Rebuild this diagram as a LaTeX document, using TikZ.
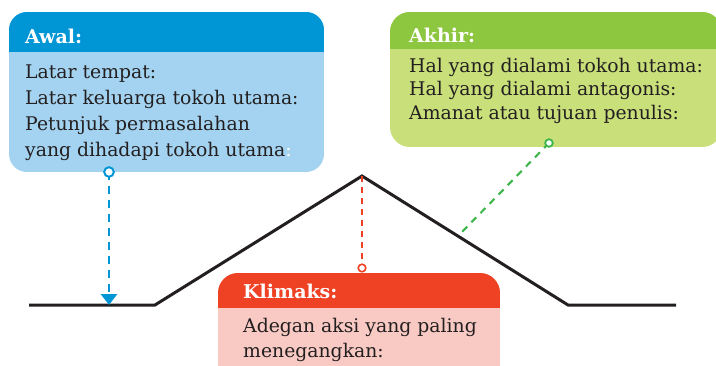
\documentclass[tikz,border=0pt]{standalone}
\usepackage{fontspec}
\setmainfont{DejaVu Serif}
\usetikzlibrary{arrows.meta}
\definecolor{awalhead}{HTML}{0096D6}
\definecolor{awalbody}{HTML}{A3D3F0}
\definecolor{akhirhead}{HTML}{8DC63F}
\definecolor{akhirbody}{HTML}{C8DF7A}
\definecolor{klimakshead}{HTML}{EF4123}
\definecolor{klimaksbody}{HTML}{F9CAC3}
\definecolor{tinta}{HTML}{231F20}
\definecolor{pinhijau}{HTML}{3DB54A}
\tikzset{
  headtext/.style={anchor=base west, inner sep=0pt, text=white, font=\fontsize{19}{22}\selectfont\bfseries},
  bodytext/.style={anchor=base west, inner sep=0pt, text=tinta, font=\fontsize{18.8}{22}\selectfont},
  pinhead/.style={fill=white, line width=1.6pt}
}

\begin{document}
\begin{tikzpicture}[x=1pt,y=-1pt]
  \useasboundingbox (0,0) rectangle (716,365);
  \clip (0,0) rectangle (716,365);

  % kotak awal
  \begin{scope}
    \clip[rounded corners=18pt] (9,12) rectangle (324,172);
    \fill[awalbody] (9,12) rectangle (324,172);
    \fill[awalhead] (9,12) rectangle (324,52);
  \end{scope}
  \node[headtext] (awal) at (25,43) {Awal:};
  \node[bodytext] (awal1) at (25,78) {Latar tempat:};
  \node[bodytext] (awal2) at (25,104) {Latar keluarga tokoh utama:};
  \node[bodytext] (awal3) at (25,130) {Petunjuk permasalahan};
  \node[bodytext] (awal4) at (25,156) {yang dihadapi tokoh utama\textcolor{white}{:}};

  % kotak akhir
  \begin{scope}
    \clip[rounded corners=20pt] (390,12) rectangle (722,147);
    \fill[akhirbody] (390,12) rectangle (722,147);
    \fill[akhirhead] (390,12) rectangle (722,49);
  \end{scope}
  \node[headtext] (akhir) at (409,42) {Akhir:};
  \node[bodytext] (akhir1) at (409,72) {Hal yang dialami tokoh utama:};
  \node[bodytext] (akhir2) at (409,95) {Hal yang dialami antagonis:};
  \node[bodytext] (akhir3) at (409,119) {Amanat atau tujuan penulis:};

  % kotak klimaks
  \begin{scope}
    \clip[rounded corners=20pt] (218,273) rectangle (500,385);
    \fill[klimaksbody] (218,273) rectangle (500,385);
    \fill[klimakshead] (218,273) rectangle (500,308);
  \end{scope}
  \node[headtext] (klimaks) at (243,298) {Klimaks:};
  \node[bodytext] (klimaks1) at (243,332) {Adegan aksi yang paling};
  \node[bodytext] (klimaks2) at (243,357) {menegangkan:};

  % alur
  \coordinate (mulai) at (29,305);
  \coordinate (naik) at (155,305);
  \coordinate (puncak) at (362,176);
  \coordinate (turun) at (568,305);
  \coordinate (selesai) at (676,305);
  \draw[tinta, line width=3pt] (mulai) -- (naik) -- (puncak) -- (turun) -- (selesai);

  % penunjuk
  \coordinate (awalpin) at (109,172);
  \coordinate (awalkaki) at (109,305);
  \draw[awalhead, line width=2.8pt, dash pattern=on 8pt off 6pt, -{Triangle[width=16pt,length=11pt]}] (awalpin) -- (awalkaki);
  \draw[awalhead, pinhead, line width=2pt] (awalpin) circle (4.8pt);

  \coordinate (klimakspin) at (362,268);
  \draw[klimakshead, line width=1.8pt, dash pattern=on 6pt off 5pt] (puncak) -- (klimakspin);
  \draw[klimakshead, pinhead] (klimakspin) circle (3.8pt);

  \coordinate (akhirpin) at (549,143);
  \coordinate (akhirkaki) at (459,235);
  \draw[pinhijau, line width=2.1pt, dash pattern=on 7pt off 6pt] (akhirpin) -- (akhirkaki);
  \draw[pinhijau, pinhead, line width=1.8pt] (akhirpin) circle (3.8pt);
\end{tikzpicture}
\end{document}
